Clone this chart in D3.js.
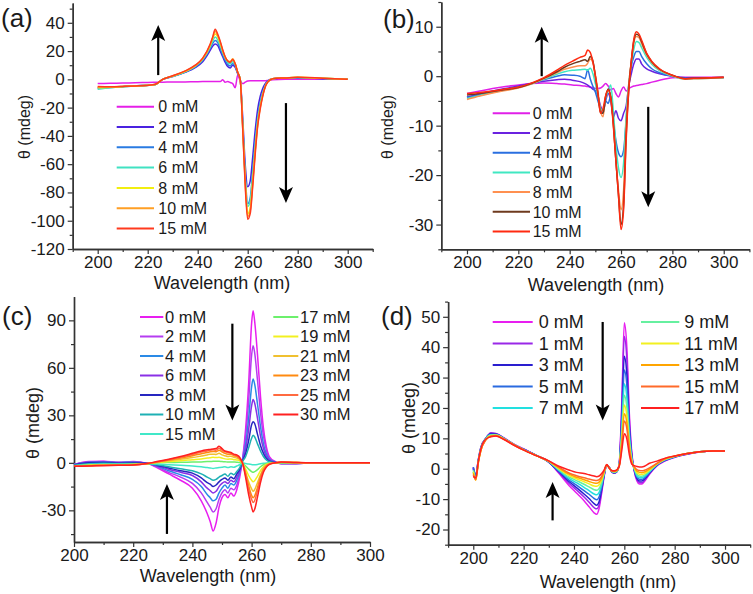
<!DOCTYPE html>
<html><head><meta charset="utf-8">
<script src="https://cdn.jsdelivr.net/npm/d3@7"></script>
<style>
body{margin:0;background:#fff}
svg{display:block}
text{font-family:"Liberation Sans",Arial,Helvetica,sans-serif;fill:#1a1a1a}
</style>
</head><body>
<svg id="chart" width="753" height="594"></svg>
<script>
// ---------------- Panel (a) ----------------
const A_wl = [200,205,210,215,220,223,226,230,235,239,242,245,246,247,248,249,250,251,252,253,254,255,256,257,258,259,260,261,262,263,264,265,266,267,268,270,275,280,290,300];
const A_names = ["0 mM","2 mM","4 mM","6 mM","8 mM","10 mM","15 mM"];
const A_colors = ["#e51fe8","#4a22e0","#2a7be2","#40e2c2","#f2ee10","#ff9f25","#ff3a1e"];
const A_0  = [-3,-2.8,-2.6,-2.4,-2.2,-2.1,-2,-1.9,-1.8,-1.7,-1.6,-1.6,-1.6,-1.5,-1.5,-1.6,-0.3,-2,-1.5,-2.2,-3,-6,3,-1,-3,-2,-1.2,-1,-1,-1,-1,-1,-1,-1,-0.8,-0.3,0,0,0,0];
const A_2  = [-6,-5.5,-5,-4.5,-4,-3.6,0,2,5,8.3,12.5,20.5,23.5,25,24,20,16,12,9,8,10,8.5,4,0,-27,-60,-76,-72,-55,-36,-21,-12,-6.5,-3,-1,0.5,1,1,0.5,0];
const A_4  = [-6.5,-5.8,-5.2,-4.7,-4.2,-3.8,0,2.1,5.2,8.8,13.5,22,25.5,27.5,26,22,17.5,13.5,10.5,9.5,11,9.5,4.5,0,-31,-67,-88,-84,-65,-44,-27,-16.5,-9.5,-4.4,-1.5,0.5,1,1.2,0.6,0];
const A_6  = [-7,-6,-5.3,-4.8,-4.3,-3.8,0,2.2,5.4,9.2,14,23,27,30,28,24,19,15,12,11,12.5,10.5,5,0,-32,-69,-90,-86,-68,-47,-29,-18,-10.5,-4.8,-1.7,0.5,1,1.3,0.7,0];
const A_8  = [-6,-5.6,-5.1,-4.7,-4.2,-3.7,0,2.3,5.6,9.5,14.5,24,29,32,30,25.5,20,15.5,13,12.5,14,11,5,0,-33,-71,-95,-91,-72,-50,-31,-19.5,-11,-5,-1.8,0.5,1,1.4,0.7,0];
const A_10 = [-5.5,-5.4,-5,-4.7,-4.2,-3.6,0,2.4,5.8,9.7,14.7,24.5,29.5,34,31,26.5,20.5,15.5,13,12.5,14.5,11,5,0,-34,-73,-97,-93,-74,-51,-32,-20,-11.5,-5.2,-1.9,0.5,1,1.5,0.8,0];
const A_15 = [-5,-5.2,-5,-4.7,-4.3,-3.5,0,2.5,6,10,15,25,30,35.5,32,27,21,16,13,12,14,11,5,0,-35,-75,-99,-95,-76,-53,-33,-21,-12,-5.5,-2,0.5,1,1.5,0.8,0];
const A_series = [A_0,A_2,A_4,A_6,A_8,A_10,A_15];
const A_yMajor = [-120,-100,-80,-60,-40,-20,0,20,40];
const A_yMinor = [-110,-90,-70,-50,-30,-10,10,30,50];

// ---------------- Panel (b) ----------------
const B_wl = [200,205,210,215,220,225,230,235,238,241,244,246,247,248,249,250,251,252,253,254,255,256,257,258,259,260,261,262,263,264,265,266,267,268,270,272,275,280,285,290,300];
const B_names = ["0 mM","2 mM","4 mM","6 mM","8 mM","10 mM","15 mM"];
const B_colors = ["#e020e8","#6a22e0","#2a6fe0","#40e8c2","#ff9050","#6e3a1e","#ff2a10"];
const B_0  = [-3.5,-3,-2.5,-2.1,-1.8,-1.5,-1.4,-1.5,-1.6,-1.8,-1.9,-2,-2.1,-2.2,-2.3,-2.5,-2.5,-2.4,-2,-1.5,-2,-2.8,-2.5,-3.5,-4.2,-3,-2.2,-3,-2.5,-2.2,-2,-1.9,-1.8,-1.7,-1.5,-1.2,-0.8,-0.3,-0.2,-0.2,-0.2];
const B_2  = [-4.2,-3.6,-3,-2.5,-2,-1.5,-1,-0.7,-0.6,-0.8,-1.1,-1.5,-1.8,-2.2,-2.6,-3,-4,-6,-7,-5,-3.5,-5,-8.3,-7,-8.5,-9,-7.5,-6,-2,0.5,2.5,3.5,3.5,2.5,1.5,1,0.5,0,-0.3,-0.3,-0.3];
const B_4  = [-4.3,-3.8,-3.2,-2.7,-2.2,-1.5,-0.7,0,0.3,0.2,0,-0.5,1.3,-0.5,-2,-3.2,-5,-6.5,-7.5,-5,-5.5,-4,-9,-13,-15.5,-16.3,-15,-9,-2,2,4,5,5,4,2.5,1.5,0.7,0,-0.4,-0.4,-0.3];
const B_6  = [-4.5,-3.9,-3.3,-2.8,-2.3,-1.6,-0.6,0.4,0.9,1.2,1.3,1.4,1.2,1.6,0.6,-1.5,-4,-6.5,-7,-4.5,-3,-1.8,-7,-14,-18.5,-20.5,-17.5,-8,-1.5,2.5,5.5,7,6.8,5.8,3.8,2.4,1.1,0,-0.6,-0.5,-0.3];
const B_8  = [-4.7,-4,-3.4,-2.9,-2.4,-1.6,-0.5,0.7,1.4,1.8,2.1,2.1,2.6,3.5,2.8,0.3,-3,-7,-8.2,-4,-2.8,-4.3,-9.5,-17,-23,-27,-23,-10,-1.8,3,6.8,8,7.8,6.6,4.3,2.7,1.3,0.1,-0.6,-0.5,-0.3];
const B_10 = [-3.8,-3.5,-3.1,-2.7,-2.3,-1.5,-0.4,0.9,1.8,2.5,3,3.3,3,4,3.2,0,-3.5,-7.3,-7.5,-4.2,-2.6,-4.2,-9.5,-17,-24,-30,-26,-12,-2.8,3,7.2,8.5,8.2,7,4.5,2.9,1.4,0.2,-0.5,-0.4,-0.2];
const B_15 = [-3.5,-3.3,-3,-2.6,-2.2,-1.4,-0.3,1.2,2.2,3,3.8,4.2,5.3,4.8,3,0,-3.5,-7.5,-6.5,-4,-2.8,-4.5,-10,-17,-24,-31,-27,-13,-3,3,7.5,9,8.5,7.3,4.6,3,1.5,0.2,-0.5,-0.4,-0.2];
const B_series = [B_0,B_2,B_4,B_6,B_8,B_10,B_15];
const B_yMajor = [-30,-20,-10,0,10];
const B_yMinor = [-35,-25,-15,-5,5,15];

// ---------------- Panel (c) ----------------
const C_wl = [200,205,210,215,220,225,228,232,236,240,243,245,246,247,248,249,250,251,252,253,254,255,256,257,258,259,260,260.5,261,262,263,264,265,266,268,270,275,280,290,300];
const C_names = ["0 mM","2 mM","4 mM","6 mM","8 mM","10 mM","15 mM","17 mM","19 mM","21 mM","23 mM","25 mM","30 mM"];
const C_colors = ["#e81ef0","#b53cf0","#2a8ae6","#8a30e6","#2626c0","#1eb0b4","#40e8c8","#6cf06c","#f2f020","#f0c030","#ff8a10","#ff6a40","#ff2020"];
const C_0  = [-1,0.8,1,0.3,0.8,-0.5,-3,-7,-11,-16,-24,-32,-37,-43,-38,-28,-22,-20,-22,-19,-21,-17,-9,3,22,50,88,96,90,68,42,22,10,4,0.8,-0.5,-0.5,0,0,0];
const C_2  = [-1,0.6,0.8,0.2,0.6,-0.5,-2.5,-6,-9,-13,-19,-25,-28,-31,-29,-23,-19,-17,-19,-16,-17,-14,-7,3,17,39,68,74,70,52,32,17,8,3,0.6,-0.5,-0.5,0,0,0];
const C_4  = [-1,0.4,0.6,0.2,0.4,-0.4,-2,-5,-7.5,-10.5,-15,-20,-22,-24,-23,-19,-16,-14,-16,-13,-14,-11,-6,2.5,12,28,48,53,50,37,23,12,5.5,2.2,0.4,-0.4,-0.4,0,0,0];
const C_6  = [-1.2,0.2,0.4,0,0.2,-0.4,-1.8,-4,-6,-8,-12,-16,-17.5,-19,-18,-15,-13,-12,-13,-11,-12,-9,-5,2,9,21,36,40,38,28,17,9,4,1.6,0.3,-0.3,-0.3,0,0,0];
const C_8  = [-1.3,0,0.2,-0.2,0,-0.4,-1.5,-3.2,-5,-6.5,-9.5,-12.5,-13.5,-15,-14,-12,-10.5,-9.5,-11,-9,-10,-7,-4,1.5,6,14,24,26,25,18,11,6,2.7,1.1,0.2,-0.3,-0.3,0,0,0];
const C_10 = [-1.5,-0.5,-0.3,-0.5,-0.4,-0.5,-1.2,-2.5,-3.8,-5,-7,-9,-10,-11,-10.5,-9,-8,-7,-8.5,-6.5,-7.5,-5.5,-3,1,4,9.5,15.5,17.5,16.5,12,7.5,4,1.8,0.7,0.1,-0.2,-0.2,0,0,0];
const C_15 = [-1.8,-1,-0.8,-0.8,-0.7,-0.6,-0.8,-1.2,-1.6,-2,-2.5,-3,-3.2,-3.5,-3.2,-3,-2.8,-2.5,-3,-2.5,-2.8,-2,-1.2,0,-0.4,-0.8,-1.1,-1.2,-1.2,-1,-0.6,-0.3,-0.1,0,0,0,0,0,0,0];
const C_17 = [-2,-1.3,-1,-1,-0.9,-0.5,0,0.2,0.3,0.5,0.6,0.8,0.8,1,1,1,0.8,0.7,0.5,0.6,0.5,0.4,0.2,-0.5,-2,-4,-5.5,-6,-5.6,-4.3,-2.5,-1.2,-0.5,-0.2,0,0,0,0,0,0];
const C_19 = [-2,-1.5,-1.2,-1.2,-1,-0.5,0.2,0.8,1.3,2,2.5,3,3.2,3.5,3.3,3.5,3,2.5,2.3,2.5,2,1.8,1.2,-0.5,-4,-8,-11,-12,-11.3,-8.5,-5,-2.5,-1,-0.4,0,0.2,0.2,0,0,0];
const C_21 = [-2,-1.7,-1.4,-1.3,-1.1,-0.5,0.4,1.3,2.3,3.3,4.3,5,5.5,5.5,5.3,6,5,4.5,4,4.2,3.5,3,2,-0.5,-6,-12,-16.5,-18,-17,-12.5,-7.5,-3.5,-1.5,-0.6,0,0.3,0.2,0,0,0];
const C_23 = [-2,-1.8,-1.5,-1.4,-1.2,-0.4,0.5,1.8,3,4.5,5.8,6.5,7,7.2,7,8,7,6,5.5,5.5,4.5,4,2.5,-0.5,-7,-14.5,-20.5,-22,-21,-15.5,-9,-4.5,-2,-0.8,0,0.4,0.2,0,0,0];
const C_25 = [-2,-1.9,-1.6,-1.5,-1.3,-0.4,0.6,2,3.5,5.3,6.8,7.5,8,8.2,8,9.2,8,7,6.5,6,5,4.5,3,-0.5,-8,-16.5,-23,-25,-24,-17.5,-10,-5,-2.2,-0.9,0,0.4,0.2,0,0,0];
const C_30 = [-2.2,-2,-1.8,-1.6,-1.4,-0.3,0.8,2.3,4,6,7.5,8.2,8.5,8.8,9,10.5,9,7.5,7,6.5,5.5,5,3.5,-0.5,-9.5,-20,-28,-31,-29.5,-21.5,-12.5,-6,-2.7,-1,0,0.5,0.2,0,0,0];
const C_series = [C_0,C_2,C_4,C_6,C_8,C_10,C_15,C_17,C_19,C_21,C_23,C_25,C_30];
const C_yMajor = [-30,0,30,60,90];
const C_yMinor = [-45,-15,15,45,75];

// ---------------- Panel (d) ----------------
const D_wl = [200,201,202,203,205,207,209,212,216,220,225,230,234,238,241,244,246,248,249,250,251,252,253,254,255,256,257,258,259,260,261,262,263,264,265,266,267,268,270,273,276,280,285,290,295,300];
const D_names = ["0 mM","1 mM","3 mM","5 mM","7 mM","9 mM","11 mM","13 mM","15 mM","17 mM"];
const D_colors = ["#e81ef0","#9a28e8","#2a1ecf","#2a6ae0","#22e0e0","#66f0a0","#f2f020","#ffa500","#ff6a2a","#ff2020"];
const D_0  = [0.5,-2,3,7,10,11.5,11.5,10.2,8.2,6.5,4.5,2.2,-1.5,-5.5,-8,-10.5,-12.5,-14.5,-15,-13,-8,-2.5,1,0.5,-1,-1.5,-1,2,22,48,40,18,5,-1,-4,-5,-5,-4.2,-1.8,1,2.5,3.8,4.8,5.5,5.8,5.8];
const D_1  = [0.3,-2.5,2.5,6.5,10,11.8,11.6,10.2,8.1,6.4,4.4,2.2,-1.2,-4.8,-7,-9.3,-11,-12.8,-13.2,-11.8,-7.3,-2.2,1.2,0.5,-1,-1.5,-1,1.8,20,43.5,36,16,4.5,-0.8,-3.6,-4.5,-4.6,-3.8,-1.6,1.1,2.6,3.8,4.8,5.5,5.8,5.8];
const D_3  = [0,-3,2.5,6.5,10,11.5,11.4,10.1,8,6.4,4.4,2.2,-1,-4.2,-6.2,-8.3,-9.8,-11.5,-12,-10.8,-6.8,-2,1.2,0.4,-1,-1.4,-1,1.6,17,37,31,14,4,-0.6,-3.2,-4,-4,-3.4,-1.4,1.2,2.7,3.9,4.9,5.6,5.8,5.8];
const D_5  = [0.5,-2,3,7,10,11.3,11.3,10,8,6.3,4.4,2.3,-0.8,-3.7,-5.4,-7.2,-8.4,-9.8,-10.2,-9.2,-6,-1.8,1.2,0.4,-0.9,-1.3,-0.9,1.5,15,32.5,27.5,12.5,3.6,-0.4,-2.8,-3.5,-3.5,-3,-1.2,1.3,2.8,3.9,4.9,5.6,5.8,5.8];
const D_7  = [-1,-3.5,2.5,6.5,10,11.2,11.2,10,8,6.3,4.4,2.3,-0.5,-3.2,-4.6,-6.1,-7.2,-8.3,-8.6,-7.8,-5.2,-1.6,1.2,0.3,-0.9,-1.2,-0.9,1.4,13,28,23.5,10.8,3.2,-0.2,-2.3,-2.9,-3,-2.5,-1,1.4,2.9,4,5,5.6,5.8,5.8];
const D_9  = [-0.5,-3,2.5,6.5,9.8,11,11.1,10,8,6.3,4.4,2.4,-0.3,-2.7,-3.9,-5.1,-6,-6.9,-7.1,-6.5,-4.5,-1.4,1.2,0.3,-0.8,-1.1,-0.8,1.3,11.5,24.2,20.3,9.3,2.8,0,-1.8,-2.4,-2.5,-2.1,-0.7,1.5,3,4,5,5.6,5.8,5.8];
const D_11 = [-1,-3.5,2,6,9.6,10.9,11,9.9,7.9,6.2,4.3,2.4,0,-2.2,-3.3,-4.3,-5,-5.7,-5.8,-5.3,-3.7,-1.1,1.3,0.3,-0.8,-1,-0.7,1.2,10,21,17.5,8,2.4,0.2,-1.3,-1.8,-1.9,-1.6,-0.4,1.6,3.1,4.1,5,5.6,5.8,5.8];
const D_13 = [-1.5,-3.8,2,6,9.5,10.8,10.9,9.8,7.9,6.2,4.3,2.5,0.3,-1.8,-2.8,-3.6,-4.2,-4.7,-4.8,-4.4,-3.1,-0.9,1.3,0.2,-0.7,-0.9,-0.6,1.1,8.8,18.1,15.2,7,2.1,0.4,-0.8,-1.2,-1.3,-1.1,-0.1,1.7,3.2,4.1,5,5.6,5.8,5.8];
const D_15 = [-2,-3.5,2,6,9.5,10.7,10.8,9.8,7.9,6.2,4.3,2.5,0.5,-1.4,-2.3,-3,-3.4,-3.8,-3.9,-3.6,-2.5,-0.7,1.3,0.2,-0.7,-0.8,-0.5,1,7.8,15.7,13.2,6.1,1.8,0.6,-0.3,-0.6,-0.7,-0.5,0.3,1.8,3.3,4.2,5,5.6,5.8,5.8];
const D_17 = [-2.5,-3,2.5,6.5,9.8,10.5,10.8,9.7,7.8,6.1,4.3,2.6,0.8,-0.4,-1.2,-1.6,-2,-2.4,-2.6,-2.4,-1.6,-0.4,1.4,0.2,-0.6,-0.7,-0.4,0.9,6,11.5,9.8,4.6,1.5,1,0.7,0.6,0.6,0.8,1.8,2.5,3.4,4.2,5,5.6,5.8,5.8];
const D_series = [D_0,D_1,D_3,D_5,D_7,D_9,D_11,D_13,D_15,D_17];
const D_yMajor = [-20,-10,0,10,20,30,40,50];
const D_yMinor = [-25,-15,-5,5,15,25,35,45,55];

const X_major_wide = [200,220,240,260,280,300];
const X_minor_wide = [190,210,230,250,270,290,310];
const X_minor_narrow = [210,230,250,270,290];

// ---------------- drawing ----------------
const svg = d3.select("#chart");
const FONT = '"Liberation Sans",Arial,Helvetica,sans-serif';

function drawPanel(p) {
  const g = svg.append("g");
  const x = d3.scaleLinear().domain(p.xDomain).range(p.xRange);
  const y = d3.scaleLinear().domain(p.yDomain).range(p.yRange);

  const yAxis = d3.axisLeft(y).tickValues(p.yMajor).tickSize(5).tickSizeOuter(0).tickPadding(3).tickFormat(d => String(d));
  const yMin = d3.axisLeft(y).tickValues(p.yMinor).tickSize(3).tickSizeOuter(0).tickFormat("");
  const xAxis = d3.axisBottom(x).tickValues(p.xMajor).tickSize(5).tickSizeOuter(0).tickPadding(2).tickFormat(d => String(d));
  const xMin = d3.axisBottom(x).tickValues(p.xMinor).tickSize(3).tickSizeOuter(0).tickFormat("");

  const x0 = p.xRange[0], yb = p.yRange[0];
  [yAxis, yMin].forEach(ax => {
    const a = g.append("g").attr("transform", `translate(${x0},0)`).call(ax);
    a.select(".domain").attr("stroke", "#333").attr("stroke-width", 1.4);
    a.selectAll(".tick line").attr("stroke", "#333").attr("stroke-width", 1.2);
    a.selectAll("text").style("font-family", FONT).style("font-size", p.tickFont + "px").attr("fill", "#1a1a1a");
  });
  [xAxis, xMin].forEach(ax => {
    const a = g.append("g").attr("transform", `translate(0,${yb})`).call(ax);
    a.select(".domain").attr("stroke", "#333").attr("stroke-width", 1.4);
    a.selectAll(".tick line").attr("stroke", "#333").attr("stroke-width", 1.2);
    a.selectAll("text").style("font-family", FONT).style("font-size", p.tickFont + "px").attr("fill", "#1a1a1a");
  });

  const line = d3.line().x(d => x(d[0])).y(d => y(d[1])).curve(d3.curveMonotoneX);
  p.series.forEach((vals, i) => {
    const pts = p.wl.map((w, k) => [w, vals[k]]);
    g.append("path").datum(pts).attr("d", line)
      .attr("fill", "none").attr("stroke", p.colors[i]).attr("stroke-width", 1.5)
      .attr("stroke-linejoin", "round");
  });

  p.arrows.forEach(a => {
    const ax = x(a.x), ya = y(a.from), yt = y(a.to);
    const dir = yt < ya ? -1 : 1;
    const headL = 16, headW = 7;
    g.append("line").attr("x1", ax).attr("x2", ax).attr("y1", ya).attr("y2", yt - dir * headL * 0.6)
      .attr("stroke", "#000").attr("stroke-width", 2.2);
    g.append("path")
      .attr("d", `M${ax},${yt} L${ax - headW},${yt - dir * headL} L${ax},${yt - dir * headL * 0.75} L${ax + headW},${yt - dir * headL} Z`)
      .attr("fill", "#000");
  });

  p.legend.forEach(col => {
    col.items.forEach((idx, r) => {
      const cy = col.y0 + r * col.dy;
      g.append("line").attr("x1", col.lx1).attr("x2", col.lx2).attr("y1", cy).attr("y2", cy)
        .attr("stroke", p.colors[idx]).attr("stroke-width", 2);
      g.append("text").attr("x", col.tx).attr("y", cy + p.legFont * 0.36)
        .style("font-size", p.legFont + "px").text(p.names[idx]);
    });
  });

  g.append("text").attr("x", p.xTitle[0]).attr("y", p.xTitle[1]).attr("text-anchor", "middle")
    .style("font-size", "18px").text("Wavelength (nm)");
  g.append("text").attr("transform", `translate(${p.yTitle[0]},${p.yTitle[1]}) rotate(-90)`)
    .attr("text-anchor", "middle").style("font-size", p.yTitleFont + "px").text("θ (mdeg)");
  g.append("text").attr("x", p.label[0]).attr("y", p.label[1]).style("font-size", "26px").text(p.labelText);
}

drawPanel({
  wl: A_wl, series: A_series, colors: A_colors, names: A_names,
  xDomain: [190, 310], xRange: [72.7, 372.7], yDomain: [-120, 54], yRange: [249, 3],
  yMajor: A_yMajor, yMinor: A_yMinor, xMajor: X_major_wide, xMinor: X_minor_wide,
  tickFont: 17, legFont: 16, yTitleFont: 16,
  arrows: [{x: 224.2, from: 3, to: 38.4}, {x: 275.3, from: -16.8, to: -87.5}],
  legend: [{items: [0,1,2,3,4,5,6], y0: 106.7, dy: 20.3, lx1: 116.7, lx2: 154, tx: 158.3}],
  xTitle: [222, 289], yTitle: [30, 127], label: [1, 27], labelText: "(a)"
});
drawPanel({
  wl: B_wl, series: B_series, colors: B_colors, names: B_names,
  xDomain: [190, 310], xRange: [441.3, 749.4], yDomain: [-35, 15], yRange: [249.3, 2],
  yMajor: B_yMajor, yMinor: B_yMinor, xMajor: X_major_wide, xMinor: X_minor_wide,
  tickFont: 17, legFont: 16, yTitleFont: 16,
  arrows: [{x: 229.1, from: 0, to: 10}, {x: 270.6, from: -6.2, to: -26.5}],
  legend: [{items: [0,1,2,3,4,5,6], y0: 113.3, dy: 19.7, lx1: 492.7, lx2: 530, tx: 532.7}],
  xTitle: [596, 291], yTitle: [393, 127], label: [383, 28], labelText: "(b)"
});
drawPanel({
  wl: C_wl, series: C_series, colors: C_colors, names: C_names,
  xDomain: [200, 300], xRange: [74, 370], yDomain: [-50, 105], yRange: [542, 296.6],
  yMajor: C_yMajor, yMinor: C_yMinor, xMajor: X_major_wide, xMinor: X_minor_narrow,
  tickFont: 17, legFont: 16.5, yTitleFont: 18,
  arrows: [{x: 253.5, from: 87.9, to: 26.8}, {x: 231.4, from: -44.9, to: -13.3}],
  legend: [{items: [0,1,2,3,4,5,6], y0: 317, dy: 19.5, lx1: 140, lx2: 163.3, tx: 165},
           {items: [7,8,9,10,11,12], y0: 317, dy: 19.5, lx1: 273.3, lx2: 298.3, tx: 300}],
  xTitle: [208, 582], yTitle: [38.5, 423], label: [2, 325], labelText: "(c)"
});
drawPanel({
  wl: D_wl, series: D_series, colors: D_colors, names: D_names,
  xDomain: [190, 310], xRange: [448.1, 750.2], yDomain: [-25, 55], yRange: [544.7, 301.6],
  yMajor: D_yMajor, yMinor: D_yMinor, xMajor: X_major_wide, xMinor: X_minor_wide,
  tickFont: 17, legFont: 18, yTitleFont: 18,
  arrows: [{x: 251.4, from: 48.3, to: 15.9}, {x: 231.5, from: -17, to: -4.4}],
  legend: [{items: [0,1,2,3,4], y0: 322, dy: 21.5, lx1: 492.7, lx2: 532.7, tx: 538.7},
           {items: [5,6,7,8,9], y0: 322, dy: 21.5, lx1: 641, lx2: 679.3, tx: 684.3}],
  xTitle: [608, 588], yTitle: [414.5, 418], label: [381, 325], labelText: "(d)"
});
</script>
</body></html>
